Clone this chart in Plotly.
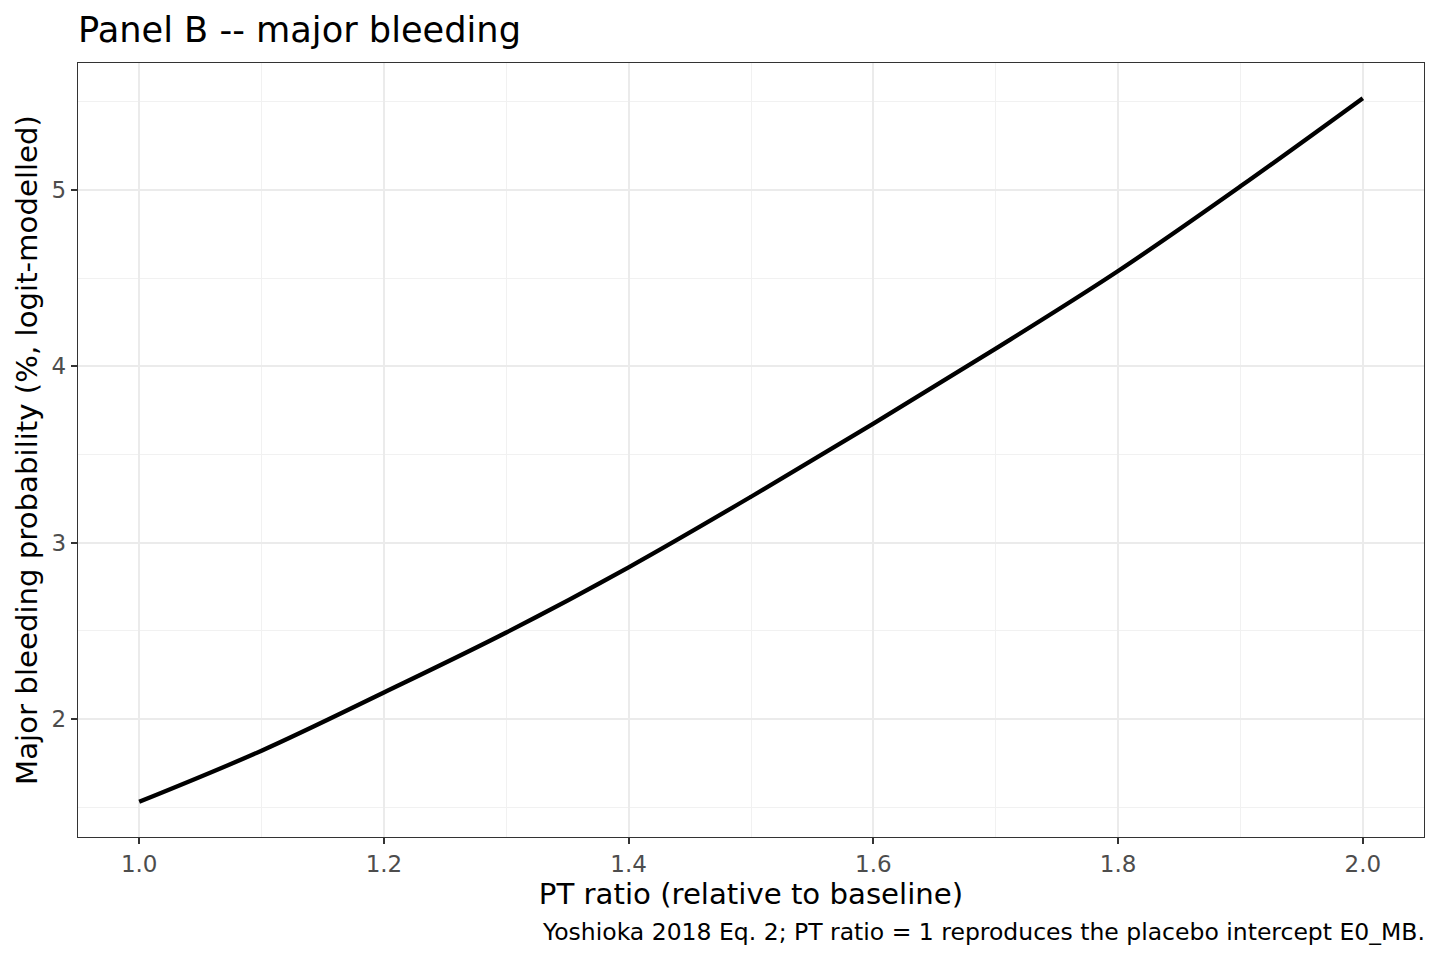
import plotly.graph_objects as go

# Data
pt_ratio = [1.0, 1.1, 1.2, 1.3, 1.4, 1.5, 1.6, 1.7, 1.8, 1.9, 2.0]
mb_prob = [1.53, 1.82, 2.15, 2.49, 2.86, 3.26, 3.675, 4.10, 4.54, 5.02, 5.52]
x_ticks = [1.0, 1.2, 1.4, 1.6, 1.8, 2.0]
x_tick_labels = ["1.0", "1.2", "1.4", "1.6", "1.8", "2.0"]
y_ticks = [2, 3, 4, 5]
y_tick_labels = ["2", "3", "4", "5"]

title_text = "Panel B -- major bleeding"
x_title = "PT ratio (relative to baseline)"
y_title = "Major bleeding probability (%, logit-modelled)"
caption = "Yoshioka 2018 Eq. 2; PT ratio = 1 reproduces the placebo intercept E0_MB."

def expand(lo, hi, f=0.05):
    d = (hi - lo) * f
    return [lo - d, hi + d]

FONT = "DejaVu Sans"
W, H = 1440, 960
L, R, T, B = 78, 16, 63, 123
PH = H - T - B

fig = go.Figure()
fig.add_trace(go.Scatter(
    x=pt_ratio, y=mb_prob, mode="lines",
    line=dict(color="black", width=4.3, shape="spline", smoothing=1.0),
    showlegend=False, hoverinfo="x+y",
))

axis_common = dict(
    showline=True, mirror=True, linecolor="#333333", linewidth=1.4,
    ticks="outside", ticklen=6, tickwidth=1.8, tickcolor="#333333",
    showgrid=True, gridcolor="#EBEBEB", gridwidth=2,
    zeroline=False,
    tickfont=dict(family=FONT, size=23, color="#4D4D4D"),
)

fig.update_layout(
    width=W, height=H,
    margin=dict(l=L, r=R, t=T, b=B, pad=0),
    paper_bgcolor="white", plot_bgcolor="white",
    font=dict(family=FONT, color="black"),
    title=dict(text=title_text, x=0, xanchor="left", xref="paper",
               y=1 - 30 / H, yanchor="middle",
               font=dict(family=FONT, size=35.2, color="black")),
    xaxis=dict(
        range=expand(min(pt_ratio), max(pt_ratio)),
        tickvals=x_ticks, ticktext=x_tick_labels,
        minor=dict(dtick=0.1, tick0=1.1, showgrid=True, gridcolor="#F1F1F1", gridwidth=1.2, ticks=""),
        title=dict(text=x_title, font=dict(family=FONT, size=29.2, color="black"), standoff=7),
        **axis_common,
    ),
    yaxis=dict(
        range=expand(min(mb_prob), max(mb_prob)),
        tickvals=y_ticks, ticktext=y_tick_labels,
        minor=dict(dtick=0.5, tick0=1.5, showgrid=True, gridcolor="#F1F1F1", gridwidth=1.2, ticks=""),
        title=dict(text=y_title, font=dict(family=FONT, size=29.2, color="black"), standoff=5),
        **axis_common,
    ),
    annotations=[dict(
        text=caption, xref="paper", yref="paper", x=1, y=-(932 - (H - B)) / PH,
        xanchor="right", yanchor="middle", showarrow=False, xshift=3,
        font=dict(family=FONT, size=23.5, color="black"),
    )],
)

fig.write_html("out.html")
